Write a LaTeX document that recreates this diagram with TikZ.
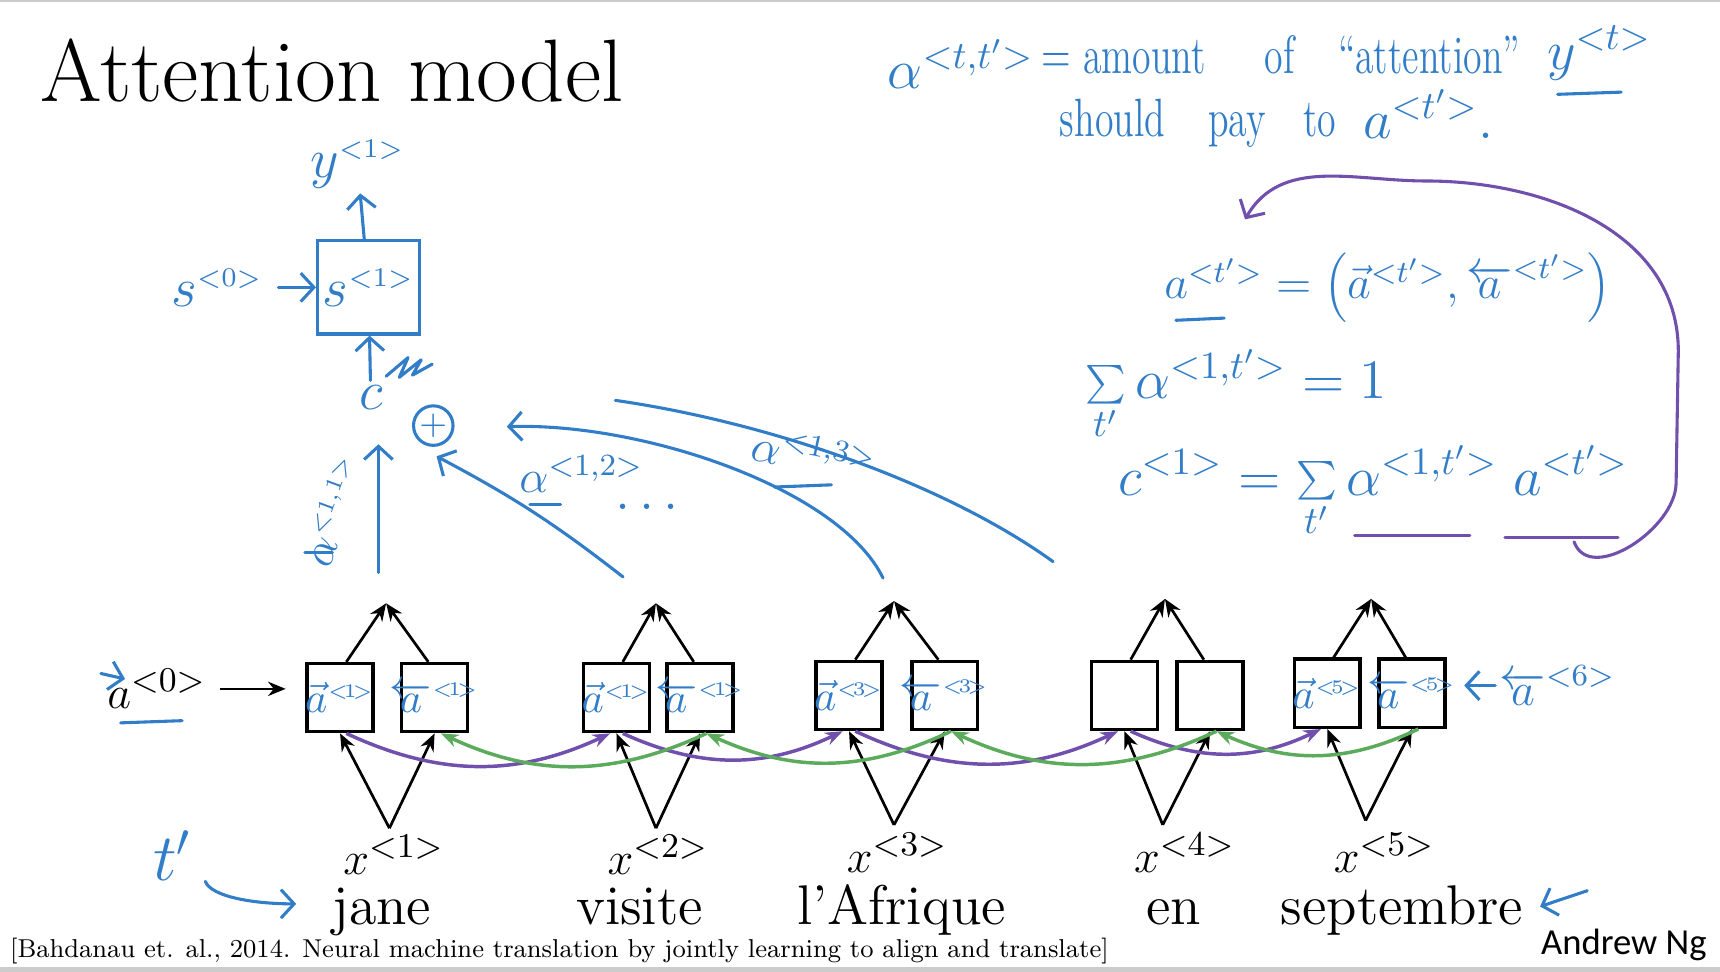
\documentclass[tikz,border=0pt]{standalone}
\usepackage{fontspec}
\usepackage{graphicx}
\usetikzlibrary{positioning,arrows.meta}
\newfontfamily\ngfont{Carlito}
\definecolor{pen}{RGB}{50,125,200}
\definecolor{fwdpen}{RGB}{112,80,172}
\definecolor{bwdpen}{RGB}{92,170,92}
\newcommand{\hand}[1]{\scalebox{0.7}[1]{#1}}
\newcommand{\tsup}[1]{^{\scriptscriptstyle <#1>}}
\newcommand{\fwda}[1]{$\vec{a}^{\scriptscriptstyle <\!#1\!>}$}
\newcommand{\bwda}[1]{$\overleftarrow{a}^{\scriptscriptstyle <\!#1\!>}$}

\begin{document}
\begin{tikzpicture}[x=0.01cm,y=0.01cm,every node/.style={inner sep=1pt},
ink/.style={draw=pen, line width=0.8pt, line cap=round, line join=round},
hw/.style={text=pen, font=\fontsize{14}{17}\selectfont},
cellink/.style={text=pen, font=\fontsize{11}{13}\selectfont},
word/.style={font=\fontsize{14.5}{17}\selectfont, anchor=base},
cell/.style={draw, line width=0.9pt, minimum width=0.6cm, minimum height=0.62cm, inner sep=0pt},
arr/.style={line width=0.7pt, -{Stealth[length=1.6mm,width=1.3mm]}},
penarrow/.style={-{Straight Barb[length=1.2mm,width=2.6mm]}},
fwd/.style={draw=fwdpen, line width=0.9pt, bend right=25, -{Stealth[length=1.6mm,width=1.2mm]}, fwdpen},
bwd/.style={draw=bwdpen, line width=0.9pt, bend left=25, -{Stealth[length=1.6mm,width=1.2mm]}, bwdpen}]
\useasboundingbox (0,0) rectangle (1568,-886);
\draw[gray!40, line width=0.6pt] (0,-1) -- (1568,-1);
\draw[gray!40, line width=1.2pt] (0,-884) -- (1568,-884);
\node[anchor=base west, font=\fontsize{23}{27}\selectfont] (title) at (33,-93) {Attention model};

% handwritten notes, top right
\node[hw] (adef) at (876,-58) {$\alpha^{<t,t'>}$};
\node[hw, anchor=west] (def1) at (945,-50) {\hand{$=$ amount\hspace{22pt}of\hspace{16pt}``attention''}};
\node[hw] (yt) at (1458,-48) {$y^{<t>}$};
\draw[ink] (1420,-86) -- (1478,-84);
\node[hw, anchor=west] (def2) at (962,-112) {\hand{should\hspace{16pt}pay\hspace{14pt}to}};
\node[hw] (atp) at (1302,-104) {$a^{<t'>}.$};

\node[hw, font=\fontsize{12}{15}\selectfont] (eqa) at (1265,-262) {$a^{<t'>} = \Bigl(\vec{a}^{<t'>}, \overleftarrow{a}^{<t'>}\Bigr)$};
\draw[ink] (1072,-292) -- (1116,-290);
\node[hw] (eqsum) at (1127,-360) {$\sum\limits_{t'}\alpha^{<1,t'>} = 1$};
\node[hw] (eqc) at (1252,-448) {$c^{<1>} = \sum\limits_{t'} \alpha^{<1,t'>}\; a^{<t'>}$};
\draw[ink, draw=fwdpen] (1235,-488) -- (1340,-488);
\draw[ink, draw=fwdpen] (1372,-490) -- (1475,-490);
\coordinate (loopstart) at (1435,-494); \coordinate (loopend) at (1135,-200);
\draw[ink, draw=fwdpen, penarrow] (loopstart) to[out=-70,in=-90] (1528,-440) -- (1530,-320) to[out=90,in=0] (1300,-165) to[out=180,in=60] (loopend);

% decoder step
\node[hw] (y1) at (326,-150) {$y\tsup{1}$};
\node[hw, draw=pen, line width=0.8pt, minimum width=0.93cm, minimum height=0.85cm, inner sep=0pt] (s1) at (336,-262) {$s\tsup{1}$};
\node[hw] (s0) at (198,-262) {$s\tsup{0}$};
\draw[ink, penarrow, shorten <=1mm] (s0) -- (s1);
\draw[ink, penarrow] (s1) -- (y1);
\node[hw] (c) at (338,-362) {$c$};
\draw[ink, penarrow] (c) -- (s1);
\draw[ink] (352,-343) -- (372,-326) -- (364,-344) -- (384,-328) -- (376,-342) -- (394,-332);
\node[draw=pen, text=pen, circle, line width=0.8pt, minimum size=0.36cm, inner sep=0pt, font=\fontsize{9}{10}\selectfont] (plus) at (395,-388) {$+$};

% attention weights
\coordinate (u1) at (345,-522); \coordinate (h1) at (345,-405);
\draw[ink, penarrow] (u1) -- (h1);
\coordinate (u2) at (568,-526); \coordinate (h2) at (398,-416);
\draw[ink, penarrow] (u2) to[bend right=5] (h2);
\coordinate (u3) at (805,-527); \coordinate (h3) at (462,-389);
\draw[ink, penarrow] (u3) .. controls (765,-445) and (585,-385) .. (h3);
\coordinate (u4) at (960,-512); \coordinate (e4) at (561,-365);
\draw[ink] (u4) .. controls (860,-440) and (700,-385) .. (e4);
\node[hw, rotate=70, font=\fontsize{12}{14}\selectfont] (l11) at (304,-466) {$\alpha\tsup{1,1}$};
\draw[ink] (278,-504) -- (303,-504);
\node[hw, font=\fontsize{12}{14}\selectfont] (l12) at (530,-432) {$\alpha^{<1,2>}$};
\draw[ink] (483,-460) -- (511,-460);
\node[hw] (dots) at (590,-462) {$\dots$};
\node[hw, rotate=-12, font=\fontsize{12}{14}\selectfont] (l13) at (742,-414) {$\alpha^{<1,3>}$};
\draw[ink] (706,-444) -- (758,-442);

% encoder cells
\node[cell, label={[cellink]center:\fwda{1}}] (f1) at (310,-636) {};
\node[cell, label={[cellink]center:\bwda{1}}, right=0.23cm of f1] (b1) {};
\node[cell, label={[cellink]center:\fwda{1}}] (f2) at (562,-636) {};
\node[cell, label={[cellink]center:\bwda{1}}, right=0.13cm of f2] (b2) {};
\node[cell, label={[cellink]center:\fwda{3}}] (f3) at (774,-634) {};
\node[cell, label={[cellink]center:\bwda{3}}, right=0.24cm of f3] (b3) {};
\node[cell] (f4) at (1025,-634) {};
\node[cell, right=0.15cm of f4] (b4) {};
\node[cell, label={[cellink]center:\fwda{5}}] (f5) at (1210,-632) {};
\node[cell, label={[cellink]center:\bwda{5}}, right=0.14cm of f5] (b5) {};

\coordinate (o1) at (352,-550); \coordinate (in1) at (355,-755);
\coordinate (o2) at (598,-550); \coordinate (in2) at (598,-755);
\coordinate (o3) at (815,-548); \coordinate (in3) at (815,-752);
\coordinate (o4) at (1062,-546); \coordinate (in4) at (1060,-752);
\coordinate (o5) at (1250,-546); \coordinate (in5) at (1245,-748);
\draw[arr] (f1.80) -- (o1); \draw[arr] (b1.100) -- (o1); \draw[arr] (in1) -- (f1.south); \draw[arr] (in1) -- (b1.south);
\draw[arr] (f2.80) -- (o2); \draw[arr] (b2.100) -- (o2); \draw[arr] (in2) -- (f2.south); \draw[arr] (in2) -- (b2.south);
\draw[arr] (f3.80) -- (o3); \draw[arr] (b3.100) -- (o3); \draw[arr] (in3) -- (f3.south); \draw[arr] (in3) -- (b3.south);
\draw[arr] (f4.80) -- (o4); \draw[arr] (b4.100) -- (o4); \draw[arr] (in4) -- (f4.south); \draw[arr] (in4) -- (b4.south);
\draw[arr] (f5.80) -- (o5); \draw[arr] (b5.100) -- (o5); \draw[arr] (in5) -- (f5.south); \draw[arr] (in5) -- (b5.south);

\draw[fwd] (f1.-80) to (f2.-100); \draw[fwd] (f2.-80) to (f3.-100);
\draw[fwd] (f3.-80) to (f4.-100); \draw[fwd] (f4.-80) to (f5.-100);
\draw[bwd] (b5.-80) to (b4.-80); \draw[bwd] (b4.-80) to (b3.-80);
\draw[bwd] (b3.-80) to (b2.-80); \draw[bwd] (b2.-80) to (b1.-80);

\node[font=\fontsize{13}{15}\selectfont] (a0) at (143,-628) {$a^{<0>}$};
\draw[arr, shorten <=0.08cm, shorten >=0.18cm] (a0) -- (a0 -| f1.west);
\draw[ink, penarrow] (92,-614) -- (114,-619);
\draw[ink] (110,-659) -- (166,-657);
\node[hw, font=\fontsize{12}{14}\selectfont] (a6) at (1420,-625) {$\overleftarrow{a}^{<6>}$};
\draw[ink, penarrow, shorten >=0.16cm] (a6) -- (a6 -| b5.east);

% inputs and words
\node[word, font=\fontsize{13}{15}\selectfont] (x1) at (359,-797) {$x^{<1>}$};
\node[word, font=\fontsize{13}{15}\selectfont] (x2) at (600,-797) {$x^{<2>}$};
\node[word, font=\fontsize{13}{15}\selectfont] (x3) at (818,-795) {$x^{<3>}$};
\node[word, font=\fontsize{13}{15}\selectfont] (x4) at (1080,-795) {$x^{<4>}$};
\node[word, font=\fontsize{13}{15}\selectfont] (x5) at (1262,-795) {$x^{<5>}$};
\node[word] (w1) at (348,-843) {jane};
\node[word] (w2) at (583,-843) {visite};
\node[word] (w3) at (822,-843) {l'Afrique};
\node[word] (w4) at (1070,-843) {en};
\node[word] (w5) at (1278,-843) {septembre};
\node[hw, font=\fontsize{18}{20}\selectfont] (tp) at (157,-780) {$t'$};
\coordinate (tpend) at (270,-824);
\draw[ink, penarrow, shorten <=0.25cm] (tp.east) to[out=-70,in=180] (tpend);
\coordinate (sepstart) at (1447,-812);
\draw[ink, penarrow, shorten >=0.12cm] (sepstart) -- (w5.east);

\node[anchor=base west] (cite) at (5,-873) {\scalebox{0.745}{\fontsize{9}{11}\selectfont [Bahdanau et. al., 2014. Neural machine translation by jointly learning to align and translate]}};
\node[anchor=base east, font=\ngfont\fontsize{9.5}{11}\selectfont] (ng) at (1560,-870) {Andrew Ng};
\end{tikzpicture}
\end{document}
